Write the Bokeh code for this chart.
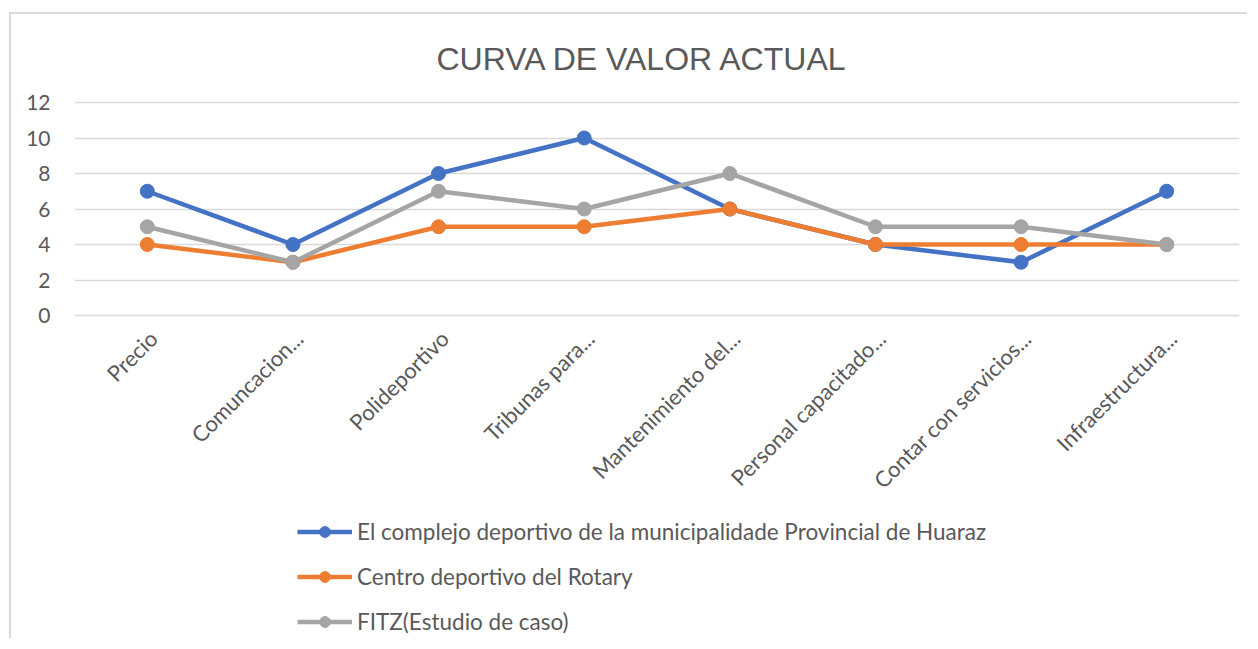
import math
from bokeh.plotting import figure
from bokeh.models import (FactorRange, Range1d, FixedTicker, Legend, LegendItem)
from bokeh.core.properties import value
from bokeh.embed import file_html
from bokeh.resources import INLINE

categories = ["Precio", "Comuncacion...", "Polideportivo", "Tribunas para...",
              "Mantenimiento del...", "Personal capacitado...", "Contar con servicios...",
              "Infraestructura..."]
huaraz = [7, 4, 8, 10, 6, 4, 3, 7]
rotary = [4, 3, 5, 5, 6, 4, 4, 4]
fitz = [5, 3, 7, 6, 8, 5, 5, 4]
series_names = ["El complejo deportivo de la municipalidade Provincial de Huaraz",
                "Centro deportivo del Rotary",
                "FITZ(Estudio de caso)"]
y_ticks = [0, 2, 4, 6, 8, 10, 12]

colors = ["#4472C4", "#ED7D31", "#A5A5A5"]
FONT = "Lato"
TXT = "#595959"

W, H = 1238, 626
TOP, LEFT, RIGHT = 86, 63, 10
frame_h = H - TOP
ppu = 213.0 / 12.0          # pixels per y unit
y_end = 12 + 2.0 / ppu
y_start = y_end - frame_h / ppu

p = figure(x_range=FactorRange(*categories), y_range=Range1d(y_start, y_end),
           width=W, height=H, output_backend="svg", toolbar_location=None,
           x_axis_location=None,
           min_border_left=LEFT, min_border_right=RIGHT, min_border_top=TOP,
           min_border_bottom=0, title="CURVA DE VALOR ACTUAL")
p.outline_line_color = None
p.background_fill_color = "white"
p.border_fill_color = "white"
p.styles = {"border-left": "2px solid #D9D9D9", "border-top": "2px solid #D9D9D9",
            "margin-left": "9px", "margin-top": "12px"}

p.title.align = "left"
p.title.offset = 362
p.title.text_font = "Liberation Sans"
p.title.text_font_size = "32px"
p.title.text_font_style = "normal"
p.title.text_color = TXT
p.title.standoff = 47

p.xgrid.grid_line_color = None
p.ygrid.grid_line_color = "#D9D9D9"
p.ygrid.grid_line_width = 1.5
p.yaxis.ticker = FixedTicker(ticks=y_ticks)
ax = p.yaxis[0]
ax.axis_line_color = None
ax.major_tick_line_color = None
ax.minor_tick_line_color = None
ax.major_label_text_color = TXT
ax.major_label_text_font = FONT
ax.major_label_text_font_size = "21px"
ax.major_label_standoff = 18

# rotated category labels, anchored below y = 0
p.text(x=categories, y=[0] * len(categories), text=categories,
       angle=math.pi / 4, text_align="right", text_baseline="middle",
       x_offset=6, y_offset=19, text_font=value(FONT), text_font_size="22px",
       text_color=TXT)

items = []
for name, vals, col in zip(series_names, [huaraz, rotary, fitz], colors):
    l = p.line(categories, vals, line_color=col, line_width=4.5, line_join="round")
    s = p.scatter(categories, vals, size=14, fill_color=col, line_color=col)
    items.append(LegendItem(label=name, renderers=[l, s]))

legend = Legend(items=items, location=(223, 5), orientation="vertical",
                glyph_width=55, glyph_height=27, label_height=27, spacing=18,
                label_standoff=5, padding=0, margin=0,
                border_line_color=None, background_fill_alpha=0,
                label_text_font=FONT, label_text_font_size="22.5px",
                label_text_color=TXT)
p.add_layout(legend, "center")

open("out.html", "w").write(file_html(p, INLINE))
